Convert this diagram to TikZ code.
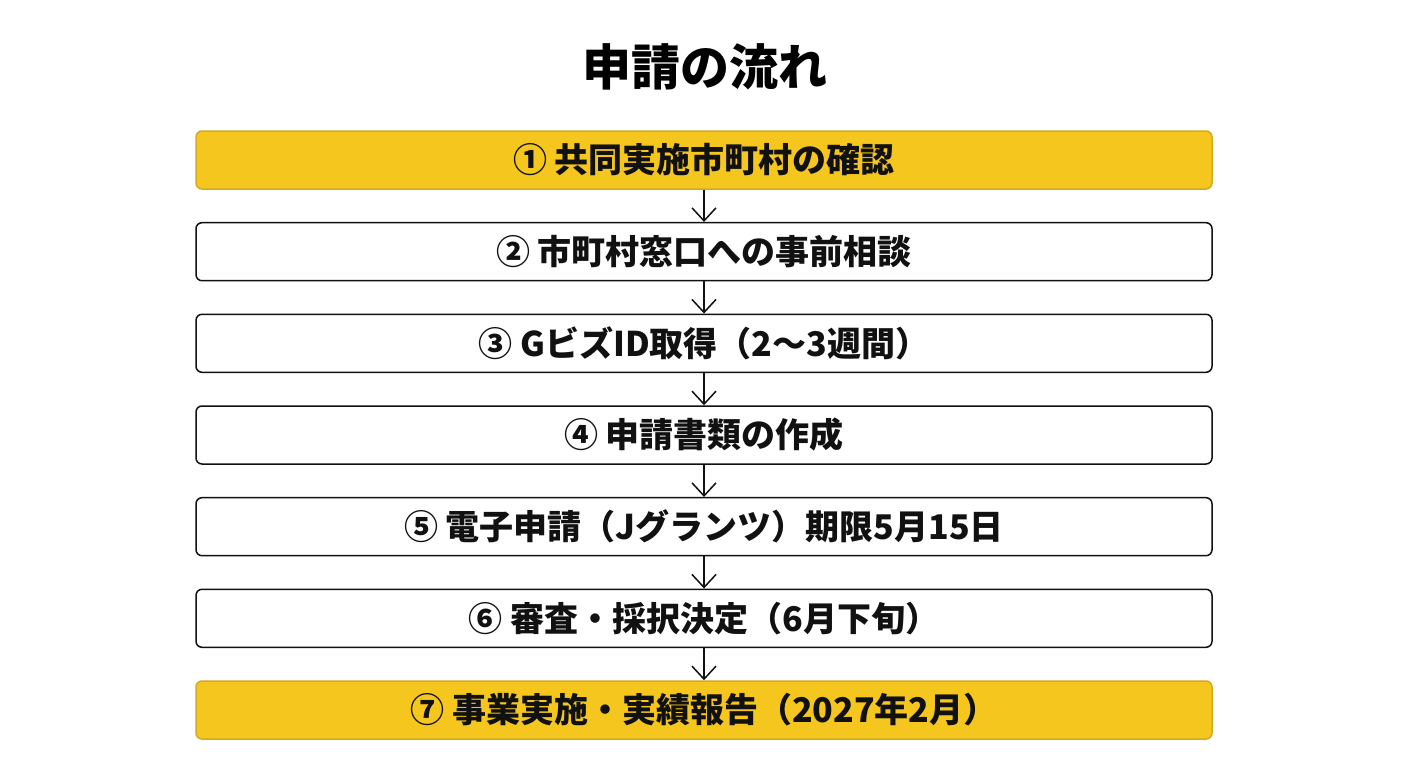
\documentclass[tikz,border=0pt]{standalone}
\usepackage{fontspec}
\setmainfont{Noto Sans CJK JP}
\usetikzlibrary{arrows.meta}
\definecolor{ygold}{HTML}{F5C61E}
\definecolor{yedge}{HTML}{D3AA22}
\definecolor{ink}{HTML}{111111}
\tikzset{
  stepbox/.style={draw=ink, line width=1.5pt, fill=white, rounded corners=6pt,
    minimum width=1016pt, minimum height=58pt, inner sep=0pt,
    font=\fontsize{34}{40}\selectfont\bfseries, text=ink},
  goldbox/.style={stepbox, draw=yedge, fill=ygold},
  flow/.style={draw=ink, line width=1.5pt, -{Straight Barb[length=13pt,width=24pt]}},
  titletext/.style={font=\fontsize{49}{56}\selectfont\bfseries, text=black}
}
\begin{document}
\begin{tikzpicture}[x=1pt,y=-1pt]
\useasboundingbox[fill=white] (0,0) rectangle (1408,768);
\node[titletext] (title) at (705,67) {申請の流れ};
\node[goldbox] (s1) at (704,160) {① 共同実施市町村の確認};
\node[stepbox] (s2) at (704,251.7) {② 市町村窓口への事前相談};
\node[stepbox] (s3) at (704,343.3) {③ GビズID取得（2〜3週間）};
\node[stepbox] (s4) at (704,435) {④ 申請書類の作成};
\node[stepbox] (s5) at (704,526.7) {⑤ 電子申請（Jグランツ）期限5月15日};
\node[stepbox] (s6) at (704,618.3) {⑥ 審査・採択決定（6月下旬）};
\node[goldbox] (s7) at (704,710) {⑦ 事業実施・実績報告（2027年2月）};
\foreach \a/\b in {s1/s2,s2/s3,s3/s4,s4/s5,s5/s6,s6/s7}
  \draw[flow] (\a.south) -- (\b.north);
\end{tikzpicture}
\end{document}
